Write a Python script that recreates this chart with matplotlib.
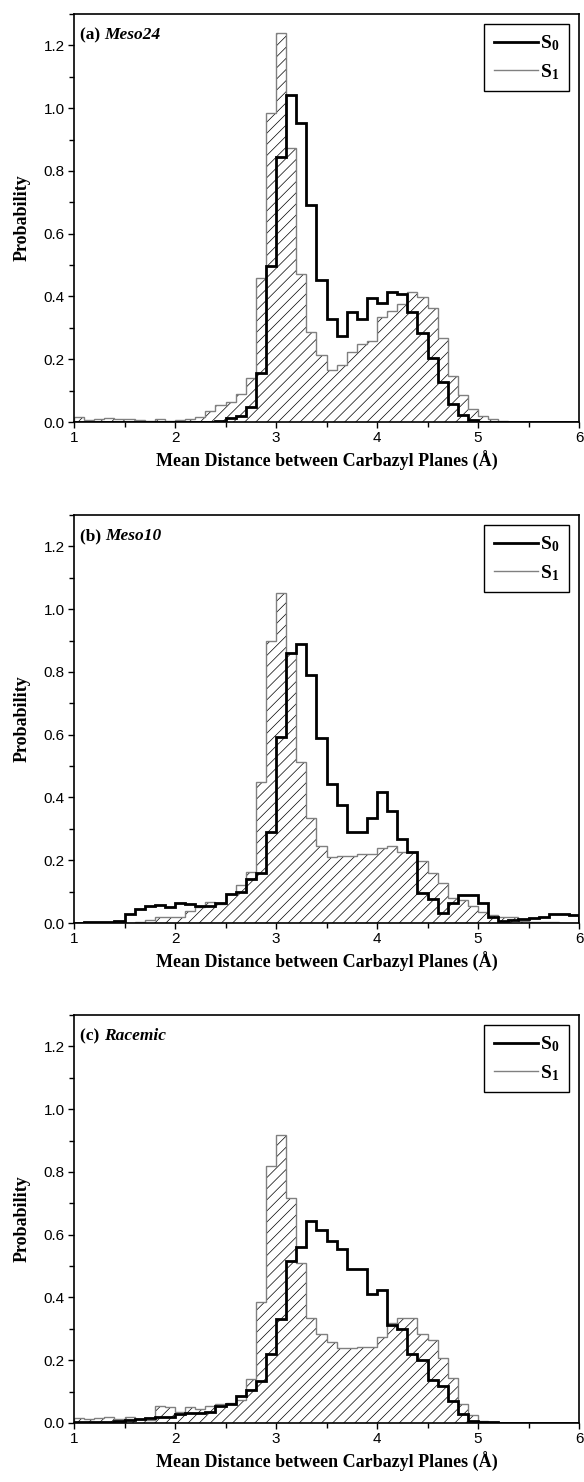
import numpy as np
import matplotlib
matplotlib.use("Agg")
import matplotlib.pyplot as plt
from matplotlib.lines import Line2D
from matplotlib.ticker import MultipleLocator

plt.rcParams['font.family'] = ['Liberation Sans', 'DejaVu Sans']
plt.rcParams['mathtext.fontset'] = 'custom'
plt.rcParams['mathtext.rm'] = 'Liberation Serif:bold'
plt.rcParams['mathtext.it'] = 'Liberation Serif:bold:italic'
plt.rcParams['mathtext.bf'] = 'Liberation Serif:bold'
plt.rcParams['hatch.color'] = 'black'
plt.rcParams['hatch.linewidth'] = 0.5

# histogram bins: 0.1 A wide, from 1 to 6 A
bin_edges = np.linspace(1.0, 6.0, 51)

panel_tags = ['(a)', '(b)', '(c)']
panel_names = ['Meso24', 'Meso10', 'Racemic']

meso24_s0 = [0, 0, 0, 0, 0, 0, 0, 0, 0, 0,
             0, 0, 0, 0, 0.002, 0.013, 0.020, 0.049, 0.155, 0.498,
             0.843, 1.043, 0.954, 0.692, 0.453, 0.329, 0.275, 0.350, 0.328, 0.395,
             0.379, 0.413, 0.407, 0.351, 0.284, 0.204, 0.127, 0.058, 0.021, 0.007,
             0.001, 0, 0, 0, 0, 0, 0, 0, 0, 0]
meso24_s1 = [0.017, 0.005, 0.010, 0.013, 0.010, 0.010, 0.005, 0.002, 0.008, 0.003,
             0.005, 0.010, 0.015, 0.035, 0.053, 0.065, 0.090, 0.140, 0.459, 0.985,
             1.240, 0.874, 0.472, 0.287, 0.213, 0.167, 0.181, 0.222, 0.250, 0.258,
             0.334, 0.355, 0.376, 0.413, 0.397, 0.362, 0.268, 0.146, 0.085, 0.040,
             0.020, 0.010, 0.003, 0.001, 0, 0, 0, 0, 0, 0]

meso10_s0 = [0, 0.002, 0.002, 0.004, 0.006, 0.030, 0.045, 0.055, 0.058, 0.050,
             0.063, 0.062, 0.055, 0.055, 0.065, 0.093, 0.100, 0.140, 0.160, 0.290,
             0.594, 0.860, 0.890, 0.790, 0.589, 0.444, 0.375, 0.290, 0.290, 0.333,
             0.418, 0.357, 0.267, 0.227, 0.097, 0.076, 0.033, 0.063, 0.090, 0.088,
             0.063, 0.018, 0.007, 0.008, 0.012, 0.015, 0.020, 0.030, 0.030, 0.025]
meso10_s1 = [0, 0.001, 0.001, 0, 0, 0, 0.002, 0.011, 0.020, 0.020,
             0.020, 0.039, 0.050, 0.066, 0.060, 0.092, 0.120, 0.164, 0.449, 0.900,
             1.050, 0.860, 0.512, 0.335, 0.245, 0.209, 0.212, 0.212, 0.220, 0.220,
             0.240, 0.245, 0.225, 0.225, 0.199, 0.159, 0.127, 0.079, 0.074, 0.055,
             0.035, 0.026, 0.020, 0.020, 0.005, 0.003, 0.003, 0.002, 0, 0]

racemic_s0 = [0.002, 0.002, 0.003, 0.004, 0.006, 0.008, 0.012, 0.015, 0.020, 0.018,
              0.028, 0.033, 0.032, 0.035, 0.055, 0.062, 0.085, 0.105, 0.135, 0.219,
              0.330, 0.515, 0.560, 0.645, 0.616, 0.580, 0.555, 0.490, 0.492, 0.410,
              0.425, 0.312, 0.300, 0.220, 0.200, 0.137, 0.118, 0.070, 0.030, 0.006,
              0.004, 0.002, 0, 0, 0, 0, 0, 0, 0, 0]
racemic_s1 = [0.015, 0.013, 0.015, 0.020, 0.013, 0.020, 0.013, 0.010, 0.055, 0.050,
              0.035, 0.050, 0.045, 0.055, 0.060, 0.065, 0.072, 0.140, 0.384, 0.820,
              0.917, 0.716, 0.510, 0.335, 0.283, 0.257, 0.240, 0.238, 0.242, 0.243,
              0.275, 0.320, 0.333, 0.333, 0.283, 0.266, 0.206, 0.143, 0.060, 0.025,
              0.005, 0.003, 0, 0, 0, 0, 0, 0, 0, 0]

s0_data = [meso24_s0, meso10_s0, racemic_s0]
s1_data = [meso24_s1, meso10_s1, racemic_s1]

W, H = 584, 1482
fig = plt.figure(figsize=(W / 100, H / 100), dpi=100)

serif_bold = dict(family='Liberation Serif', weight='bold')

# axes boxes in pixels: left, top, right, bottom
panel_tops = [14, 515, 1015]
for i in range(3):
    top = panel_tops[i]
    left, right, bottom = 74, 579, top + 408
    ax = fig.add_axes([left / W, 1 - bottom / H, (right - left) / W, (bottom - top) / H])

    # S1: hatched, grey outline
    ax.stairs(s1_data[i], bin_edges, fill=True, facecolor='white', edgecolor='black',
              hatch='///', linewidth=0, zorder=1)
    ax.stairs(s1_data[i], bin_edges, color='#808080', linewidth=1.0, zorder=2)
    # S0: thick black step line
    ax.stairs(s0_data[i], bin_edges, color='black', linewidth=2.0, zorder=3)

    ax.set_xlim(1, 6)
    ax.set_ylim(0, 1.3)
    ax.xaxis.set_major_locator(MultipleLocator(1))
    ax.xaxis.set_minor_locator(MultipleLocator(0.5))
    ax.yaxis.set_major_locator(MultipleLocator(0.2))
    ax.yaxis.set_minor_locator(MultipleLocator(0.1))
    ax.yaxis.set_major_formatter(matplotlib.ticker.FormatStrFormatter('%.1f'))
    ax.tick_params(which='both', direction='out', top=False, right=False,
                   width=1.0, labelsize=11, pad=2)
    ax.tick_params(which='major', length=4.5)
    ax.tick_params(which='minor', length=3.5)
    for sp in ax.spines.values():
        sp.set_linewidth(1.2)

    ax.set_xlabel('Mean Distance between Carbazyl Planes (Å)', fontsize=13, labelpad=4,
                  **serif_bold)
    ax.set_ylabel('Probability', fontsize=13, **serif_bold)
    ax.yaxis.set_label_coords(-0.085, 0.5)

    t1 = ax.text(0.012, 0.968, panel_tags[i] + ' ', transform=ax.transAxes,
                 ha='left', va='top', fontsize=12.5, **serif_bold)
    ax.annotate(panel_names[i], xy=(1, 0), xycoords=t1, ha='left', va='bottom',
                fontsize=12.5, family='Liberation Serif', weight='bold', style='italic')

    handles = [Line2D([], [], color='black', lw=2.0),
               Line2D([], [], color='#808080', lw=1.0)]
    leg = ax.legend(handles, [r'$\mathrm{S_0}$', r'$\mathrm{S_1}$'], loc='upper right',
                    fontsize=14, frameon=True, fancybox=False, framealpha=1,
                    edgecolor='black', handlelength=2.3, handletextpad=0.1,
                    labelspacing=0.45, borderpad=0.5, borderaxespad=0.5)
    leg.get_frame().set_linewidth(1.0)

fig.savefig('out.png', dpi=100)
